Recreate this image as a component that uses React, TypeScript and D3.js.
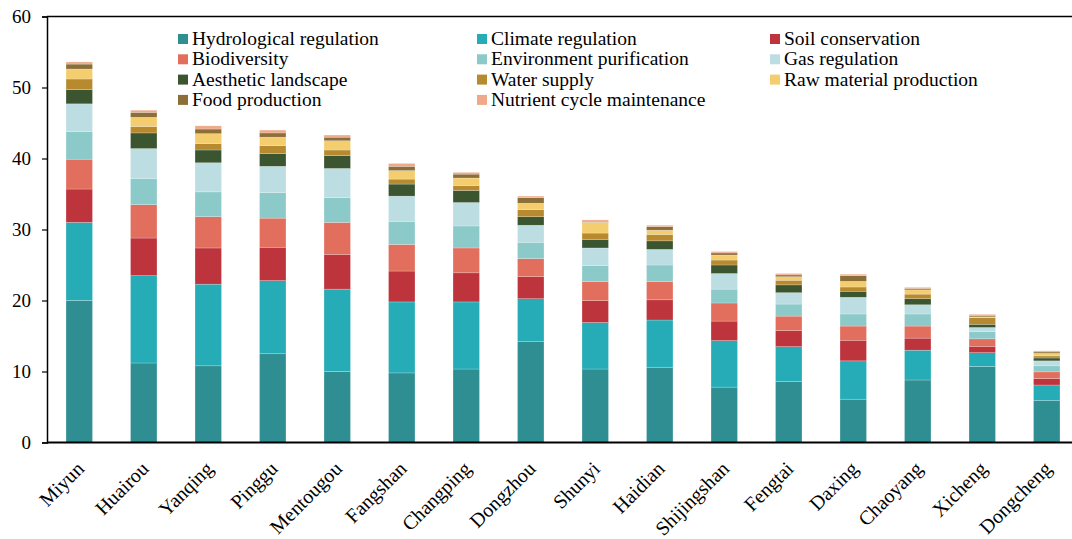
import React, { useEffect, useRef } from "react";
import * as d3 from "d3";

// districts along the x axis
const districts = [
  "Miyun", "Huairou", "Yanqing", "Pinggu", "Mentougou", "Fangshan", "Changping", "Dongzhou",
  "Shunyi", "Haidian", "Shijingshan", "Fengtai", "Daxing", "Chaoyang", "Xicheng", "Dongcheng",
];

// service values per district (stack order, bottom to top)
const hydrological = [20.0, 11.2, 10.8, 12.5, 10.0, 9.8, 10.35, 14.2, 10.35, 10.6, 7.8, 8.6, 6.1, 8.8, 10.7, 5.9];
const climate = [11.0, 12.3, 11.5, 10.3, 11.6, 10.0, 9.45, 6.05, 6.55, 6.65, 6.55, 4.9, 5.4, 4.2, 1.95, 2.2];
const soil = [4.7, 5.3, 5.1, 4.7, 4.9, 4.35, 4.1, 3.1, 3.07, 2.85, 2.75, 2.25, 2.9, 1.7, 0.9, 0.9];
const biodiversity = [4.2, 4.7, 4.4, 4.1, 4.5, 3.75, 3.5, 2.55, 2.68, 2.55, 2.55, 2.05, 2.0, 1.7, 1.05, 0.95];
const environment = [3.9, 3.7, 3.5, 3.6, 3.5, 3.25, 3.1, 2.3, 2.25, 2.35, 1.95, 1.7, 1.7, 1.7, 1.0, 0.85];
const gas = [3.9, 4.2, 4.1, 3.7, 4.1, 3.55, 3.3, 2.4, 2.5, 2.2, 2.2, 1.6, 2.35, 1.3, 0.6, 0.7];
const aesthetic = [2.0, 2.2, 1.8, 1.8, 1.8, 1.7, 1.7, 1.2, 1.2, 1.2, 1.2, 1.1, 0.85, 0.85, 0.45, 0.4];
const water = [1.5, 0.9, 0.9, 1.1, 0.8, 0.7, 0.7, 1.0, 0.9, 0.9, 0.7, 0.65, 0.6, 0.65, 0.95, 0.3];
const rawMaterial = [1.4, 1.3, 1.4, 1.2, 1.3, 1.2, 1.05, 0.9, 1.5, 0.6, 0.7, 0.5, 0.8, 0.6, 0.1, 0.35];
const food = [0.7, 0.7, 0.65, 0.6, 0.5, 0.6, 0.55, 0.8, 0.05, 0.5, 0.3, 0.25, 0.8, 0.2, 0.2, 0.2];
const nutrient = [0.3, 0.3, 0.45, 0.4, 0.3, 0.4, 0.25, 0.2, 0.3, 0.2, 0.2, 0.2, 0.2, 0.15, 0.15, 0.15];

const seriesNames = [
  "Hydrological regulation", "Climate regulation", "Soil conservation",
  "Biodiversity", "Environment purification", "Gas regulation",
  "Aesthetic landscape", "Water supply", "Raw material production",
  "Food production", "Nutrient cycle maintenance",
];
const seriesValues = [hydrological, climate, soil, biodiversity, environment, gas, aesthetic, water, rawMaterial, food, nutrient];
const colors = [
  "#2e8e92", "#25acb6", "#be343d", "#e26e5d", "#8cc9c9", "#bcdee3",
  "#3b5530", "#b78a30", "#f4cd6e", "#8c6f38", "#efa98a",
];
const yTicks = [0, 10, 20, 30, 40, 50, 60];

const W = 1072;
const H = 539;
const FONT = "'Liberation Serif', 'Times New Roman', serif";

export default function App() {
  const ref = useRef<SVGSVGElement>(null);

  useEffect(() => {
    if (!ref.current) return;
    const svg = d3.select(ref.current);
    svg.selectAll("*").remove();

    const left = 47;
    const x = d3.scaleBand().domain(districts).range([left, left + 16 * 64.5]).paddingInner(0.59).paddingOuter(0.295);
    const y = d3.scaleLinear().domain([0, 60]).range([442.5, 16.5]);

    const rows = districts.map((d, i) => {
      const r: any = { name: d };
      seriesNames.forEach((s, k) => (r[s] = seriesValues[k][i]));
      return r;
    });
    const stacked = d3.stack<any>().keys(seriesNames)(rows);

    // bars
    svg
      .append("g")
      .selectAll("g")
      .data(stacked)
      .enter()
      .append("g")
      .attr("fill", (_d, i) => colors[i])
      .selectAll("rect")
      .data((d) => d)
      .enter()
      .append("rect")
      .attr("x", (d: any) => x(d.data.name) || 0)
      .attr("width", x.bandwidth())
      .attr("y", (d) => y(d[1]))
      .attr("height", (d) => y(d[0]) - y(d[1]))
      .attr("stroke", "#ffffff")
      .attr("stroke-opacity", 0.35)
      .attr("stroke-width", 0.6);

    // y axis
    const yAxis = svg
      .append("g")
      .attr("transform", `translate(${left},0)`)
      .call(d3.axisLeft(y).tickValues(yTicks).tickSize(5).tickPadding(11));
    yAxis.select(".domain").attr("stroke", "#000").attr("stroke-width", 1.5);
    yAxis.selectAll(".tick line").attr("stroke", "#000").attr("stroke-width", 1.2);
    yAxis.selectAll("text").attr("font-family", FONT).attr("font-size", 19).attr("fill", "#000");

    // bottom and top frame lines
    svg.append("line").attr("x1", left).attr("x2", W).attr("y1", y(0)).attr("y2", y(0)).attr("stroke", "#000").attr("stroke-width", 2);
    svg.append("line").attr("x1", left).attr("x2", W).attr("y1", y(60)).attr("y2", y(60)).attr("stroke", "#000").attr("stroke-width", 1.5);

    // x labels
    svg
      .append("g")
      .selectAll("text")
      .data(districts)
      .enter()
      .append("text")
      .attr("transform", (d) => `translate(${(x(d) || 0) + x.bandwidth() / 2 + 6},${470}) rotate(-45)`)
      .attr("text-anchor", "end")
      .attr("font-family", FONT)
      .attr("font-size", 20)
      .attr("fill", "#000")
      .text((d) => d);

    // legend
    const colX = [178, 477, 770];
    const legend = svg.append("g");
    seriesNames.forEach((s, i) => {
      const cx = colX[i % 3];
      const cy = 39 + Math.floor(i / 3) * 20.3;
      legend.append("rect").attr("x", cx).attr("y", cy - 5).attr("width", 10).attr("height", 10).attr("fill", colors[i]);
      legend
        .append("text")
        .attr("x", cx + 14)
        .attr("y", cy + 6)
        .attr("font-family", FONT)
        .attr("font-size", 19.5)
        .attr("fill", "#000")
        .text(s);
    });
  }, []);

  return (
    <div style={{ position: "absolute", left: 0, top: 0, background: "#fff" }}>
      <svg ref={ref} width={W} height={H} style={{ display: "block" }} />
    </div>
  );
}
